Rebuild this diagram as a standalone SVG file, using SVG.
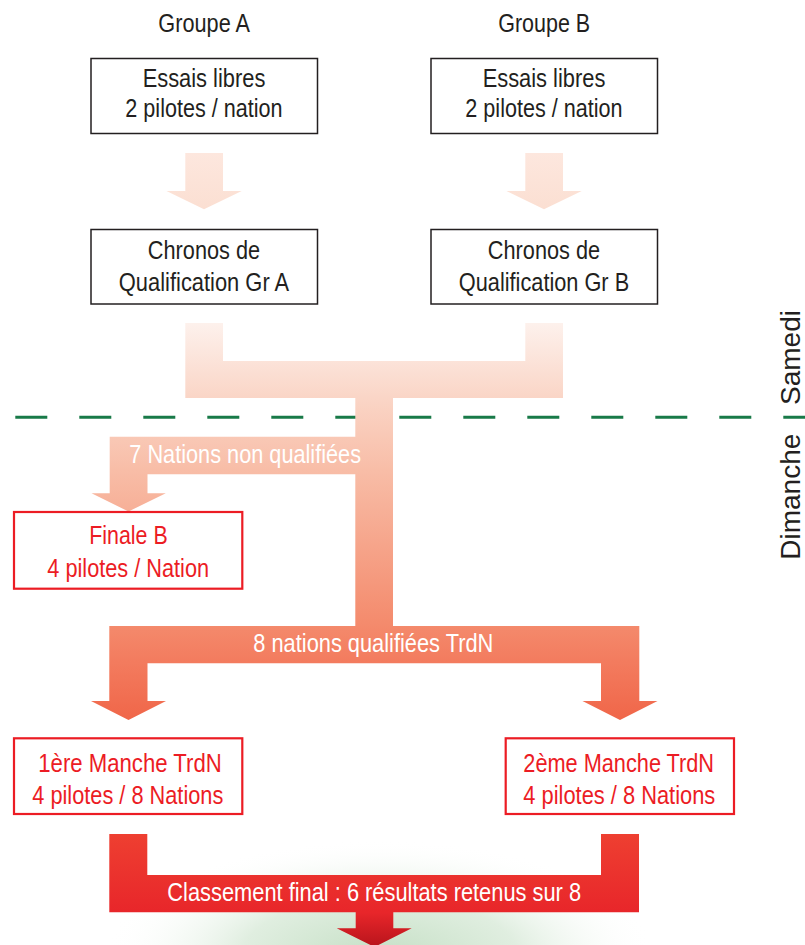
<svg xmlns="http://www.w3.org/2000/svg" width="805" height="945" viewBox="0 0 805 945">
<style>
text{font-family:"Liberation Sans",Arial,sans-serif;font-size:25.5px;text-anchor:middle}
.k{fill:#231f20}
.r{fill:#ec1c24}
.w{fill:#ffffff}
.bk{fill:#ffffff;stroke:#231f20;stroke-width:1.5}
.br{fill:#ffffff;stroke:#ec1c24;stroke-width:2.2}
.day{font-size:28px;fill:#231f20}
</style>
<defs>
<linearGradient id="gTop" gradientUnits="userSpaceOnUse" x1="0" y1="153" x2="0" y2="210">
<stop offset="0" stop-color="#fde7de"/>
<stop offset="1" stop-color="#fbdfd2"/>
</linearGradient>
<linearGradient id="gFlow" gradientUnits="userSpaceOnUse" x1="0" y1="323" x2="0" y2="947">
<stop offset="0" stop-color="#fdf1ec"/>
<stop offset="0.121" stop-color="#fad5c6"/>
<stop offset="0.236" stop-color="#f8bda7"/>
<stop offset="0.48" stop-color="#f48b6d"/>
<stop offset="0.54" stop-color="#f37c5f"/>
<stop offset="0.636" stop-color="#f06649"/>
<stop offset="0.82" stop-color="#ee3f31"/>
<stop offset="0.945" stop-color="#e8262a"/>
<stop offset="1" stop-color="#b8141c"/>
</linearGradient>
<radialGradient id="gGlow" cx="0.5" cy="0.5" r="0.5">
<stop offset="0" stop-color="#c6e0c6"/>
<stop offset="0.5" stop-color="#e0eee0"/>
<stop offset="1" stop-color="#ffffff" stop-opacity="0"/>
</radialGradient>
</defs>
<rect width="805" height="945" fill="#ffffff"/>
<ellipse cx="380" cy="955" rx="275" ry="115" fill="url(#gGlow)"/>
<g id="day-separator">
<line x1="15.3" y1="417.3" x2="805" y2="417.3" stroke="#187a48" stroke-width="3" stroke-dasharray="32 32"/>
<text class="day" transform="translate(800 357.5) rotate(-90)">Samedi</text>
<text class="day" transform="translate(800 496.7) rotate(-90)">Dimanche</text>
</g>
<g id="connectors">
<path d="M185.3,153 H223 V191 H241.7 L204,209.3 L166.5,191 H185.3 Z" fill="url(#gTop)"/>
<path d="M525.3,153 H563 V191 H581.7 L544,209.3 L506.5,191 H525.3 Z" fill="url(#gTop)"/>
<path d="M185.3,323 H223 V361 H525.3 V323 H563 V398 H393 V626 H639.3 V701 H657.5 L620,720 L582.5,701 H601 V663.3 H147.5 V701 H166 L128.5,720 L91,701 H109.3 V626 H355.3 V474.3 H147.5 V493.3 H165.8 L128.5,511.5 L91.5,493.3 H109.7 V436.7 H355.3 V398 H185.3 Z" fill="url(#gFlow)"/>
<path d="M109.3,834 H147.3 V875 H601 V834 H639 V912.3 H393.3 V928.3 H411.7 L374.5,947 L336.7,928.3 H355.7 V912.3 H109.3 Z" fill="url(#gFlow)"/>
<text class="w" x="245.2" y="463.3" textLength="231.7" lengthAdjust="spacingAndGlyphs">7 Nations non qualifiées</text>
<text class="w" x="373.3" y="652.3" textLength="240" lengthAdjust="spacingAndGlyphs">8 nations qualifiées TrdN</text>
<text class="w" x="374.2" y="901" textLength="413.7" lengthAdjust="spacingAndGlyphs">Classement final : 6 résultats retenus sur 8</text>
</g>
<g id="groupe-a-label">
<text class="k" x="204.2" y="31.7" textLength="91.7" lengthAdjust="spacingAndGlyphs">Groupe A</text>
</g>
<g id="groupe-b-label">
<text class="k" x="544.2" y="31.7" textLength="92" lengthAdjust="spacingAndGlyphs">Groupe B</text>
</g>
<g id="essais-a">
<rect class="bk" x="91" y="58.5" width="226.5" height="75"/>
<text class="k" x="204" y="86.5" textLength="122.7" lengthAdjust="spacingAndGlyphs">Essais libres</text>
<text class="k" x="204" y="116.5" textLength="157.3" lengthAdjust="spacingAndGlyphs">2 pilotes / nation</text>
</g>
<g id="essais-b">
<rect class="bk" x="431" y="58.5" width="226.5" height="75"/>
<text class="k" x="544" y="86.5" textLength="122.7" lengthAdjust="spacingAndGlyphs">Essais libres</text>
<text class="k" x="544" y="116.5" textLength="157.3" lengthAdjust="spacingAndGlyphs">2 pilotes / nation</text>
</g>
<g id="chronos-a">
<rect class="bk" x="91" y="229.5" width="226.5" height="74.5"/>
<text class="k" x="204" y="259" textLength="112.3" lengthAdjust="spacingAndGlyphs">Chronos de</text>
<text class="k" x="204" y="290.7" textLength="170.3" lengthAdjust="spacingAndGlyphs">Qualification Gr A</text>
</g>
<g id="chronos-b">
<rect class="bk" x="431" y="229.5" width="226.5" height="74.5"/>
<text class="k" x="544" y="259" textLength="112.3" lengthAdjust="spacingAndGlyphs">Chronos de</text>
<text class="k" x="544" y="290.7" textLength="170.3" lengthAdjust="spacingAndGlyphs">Qualification Gr B</text>
</g>
<g id="finale-b">
<rect class="br" x="14" y="512" width="228.3" height="76.7"/>
<text class="r" x="128.5" y="544.3" textLength="78.4" lengthAdjust="spacingAndGlyphs">Finale B</text>
<text class="r" x="128.2" y="576.7" textLength="161.7" lengthAdjust="spacingAndGlyphs">4 pilotes / Nation</text>
</g>
<g id="manche-1">
<rect class="br" x="14" y="738.3" width="228.3" height="75.7"/>
<text class="r" x="130" y="771.7" textLength="183.4" lengthAdjust="spacingAndGlyphs">1ère Manche TrdN</text>
<text class="r" x="127.8" y="804" textLength="191" lengthAdjust="spacingAndGlyphs">4 pilotes / 8 Nations</text>
</g>
<g id="manche-2">
<rect class="br" x="505.7" y="738.3" width="228.3" height="75.7"/>
<text class="r" x="618.7" y="771.7" textLength="190.7" lengthAdjust="spacingAndGlyphs">2ème Manche TrdN</text>
<text class="r" x="619.3" y="804" textLength="192" lengthAdjust="spacingAndGlyphs">4 pilotes / 8 Nations</text>
</g>
</svg>
